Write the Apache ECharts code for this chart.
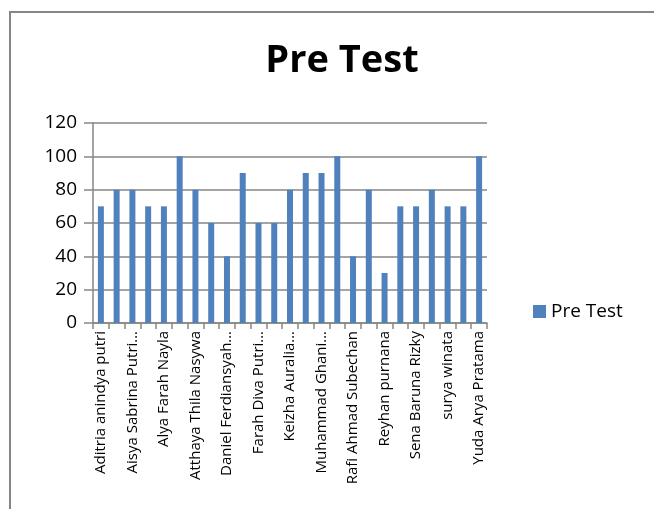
<!DOCTYPE html>
<html>
<head>
<meta charset="utf-8">
<script src="https://cdn.jsdelivr.net/npm/echarts@6/dist/echarts.min.js"></script>
<style>
  html, body { margin: 0; padding: 0; background: #fff; }
  #chart { width: 654px; height: 509px; }
</style>
</head>
<body>
<div id="chart"></div>
<script>
// students (only every other name is printed on the axis; the hidden ones are left blank)
const students = [
  'Aditria anindya putri', '', 'Aisya Sabrina Putri…', '', 'Alya Farah Nayla', '',
  'Atthaya Thila Nasywa', '', 'Daniel Ferdiansyah…', '', 'Farah Diva Putri…', '',
  'Keizha Auralia…', '', 'Muhammad Ghani…', '', 'Rafi Ahmad Subechan', '',
  'Reyhan purnana', '', 'Sena Baruna Rizky', '', 'surya winata', '', 'Yuda Arya Pratama'
];
const preTest = [70, 80, 80, 70, 70, 100, 80, 60, 40, 90, 60, 60, 80, 90, 90, 100, 40, 80, 30, 70, 70, 80, 70, 70, 100];
const seriesName = 'Pre Test';
const chartTitle = 'Pre Test';

const font = '"Open Sans", "Noto Sans", sans-serif';
const gray = '#868686';

const myChart = echarts.init(document.getElementById('chart'));
myChart.setOption({
  animation: false,
  textStyle: { fontFamily: font },
  graphic: [{
    type: 'rect',
    shape: { x: 10, y: 12, width: 700, height: 600 },
    style: { fill: 'none', stroke: gray, lineWidth: 2 },
    silent: true
  }],
  title: {
    text: chartTitle,
    left: 337,
    textAlign: 'center',
    top: 37,
    textStyle: { fontSize: 38, fontWeight: 'bold', color: '#000', fontFamily: font }
  },
  legend: {
    data: [seriesName],
    left: 528,
    top: 297,
    itemWidth: 13,
    itemHeight: 13,
    itemGap: 8,
    icon: 'rect',
    textStyle: { fontSize: 19, color: '#000', fontFamily: font }
  },
  grid: { left: 93, right: 167, top: 123, bottom: 186, containLabel: false },
  xAxis: {
    type: 'category',
    data: students,
    axisLine: { lineStyle: { color: gray, width: 1.5 } },
    axisTick: { show: true, length: 6, interval: 0, alignWithLabel: false, lineStyle: { color: gray, width: 1.5 } },
    axisLabel: {
      interval: 1,
      rotate: 90,
      margin: 8,
      fontSize: 15,
      color: '#000',
      fontFamily: font
    },
    splitLine: { show: false }
  },
  yAxis: {
    type: 'value',
    min: 0,
    max: 120,
    interval: 20,
    axisLine: { show: true, lineStyle: { color: gray, width: 1.5 } },
    axisTick: { show: true, length: 9, lineStyle: { color: gray, width: 1.5 } },
    axisLabel: { fontSize: 19, color: '#000', margin: 16, fontFamily: font },
    splitLine: { show: true, lineStyle: { color: gray, width: 1.5 } }
  },
  series: [{
    name: seriesName,
    type: 'bar',
    data: preTest,
    barWidth: 6,
    itemStyle: { color: '#4F81BD' }
  }]
});
</script>
</body>
</html>
